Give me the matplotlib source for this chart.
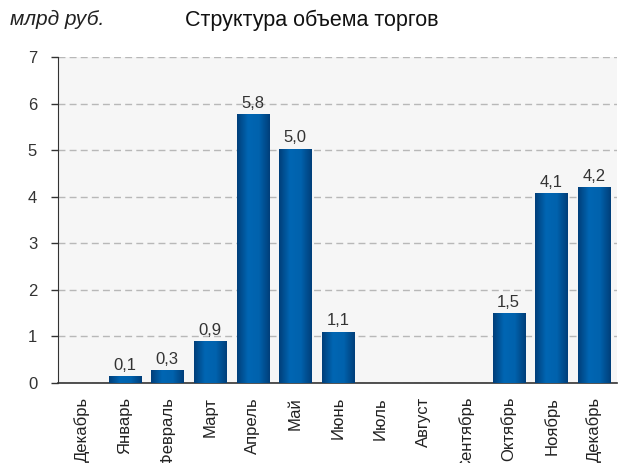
import numpy as np
import matplotlib.pyplot as plt
from matplotlib.colors import LinearSegmentedColormap
from matplotlib.patches import Rectangle

plt.rcParams['font.family'] = ['Liberation Sans', 'DejaVu Sans']

months = ['Декабрь', 'Январь', 'Февраль', 'Март', 'Апрель', 'Май', 'Июнь',
          'Июль', 'Август', 'Сентябрь', 'Октябрь', 'Ноябрь', 'Декабрь']
values = [0, 0.14, 0.27, 0.9, 5.77, 5.03, 1.1, 0, 0, 0, 1.5, 4.08, 4.2]

fig = plt.figure(figsize=(6.22, 4.63), dpi=100)
ax = fig.add_axes([0.0932, 0.1728, 0.8988, 0.7042])
ax.set_facecolor('#f6f6f6')

# horizontal cylinder-style gradient for the bars
cmap = LinearSegmentedColormap.from_list('bar', ['#003f7a', '#0066b3', '#0062ad', '#003f7a'])
grad = np.linspace(0, 1, 64).reshape(1, -1)
w = 0.75
x = np.arange(len(months))
for xi, v in zip(x, values):
    if v <= 0:
        continue
    im = ax.imshow(grad, cmap=cmap, extent=[xi - w / 2, xi + w / 2, 0, v],
                   aspect='auto', zorder=3)
    clip = Rectangle((xi - w / 2, 0), w, v, transform=ax.transData)
    im.set_clip_path(clip)
    ax.text(xi, v + 0.07, f'{v:.1f}'.replace('.', ','), ha='center', va='bottom',
            fontsize=12, color='#333333', zorder=4)

ax.set_xlim(-0.56, 12.54)
ax.set_ylim(0, 7)
ax.set_yticks(range(8))
ax.yaxis.grid(True, linestyle=(0, (5, 3)), color='#b8b8b8', linewidth=1)
ax.set_axisbelow(True)
ax.set_xticks(x)
ax.set_xticklabels(months, rotation=90, fontsize=12, color='#222222')
ax.tick_params(axis='x', length=0, pad=10)
ax.tick_params(axis='y', length=5, width=1, color='#333333', labelsize=12,
               labelcolor='#333333', pad=10)
for s in ['top', 'right']:
    ax.spines[s].set_visible(False)
ax.spines['left'].set_color('#333333')
ax.spines['bottom'].set_color('#333333')
ax.spines['bottom'].set_linewidth(1.2)

fig.text(0.016, 0.957, 'млрд руб.', fontsize=15, style='italic', color='#222222',
         va='center', ha='left')
fig.text(0.502, 0.957, 'Структура объема торгов', fontsize=15.5, color='#111111',
         va='center', ha='center')

fig.savefig('out.png', dpi=100)
